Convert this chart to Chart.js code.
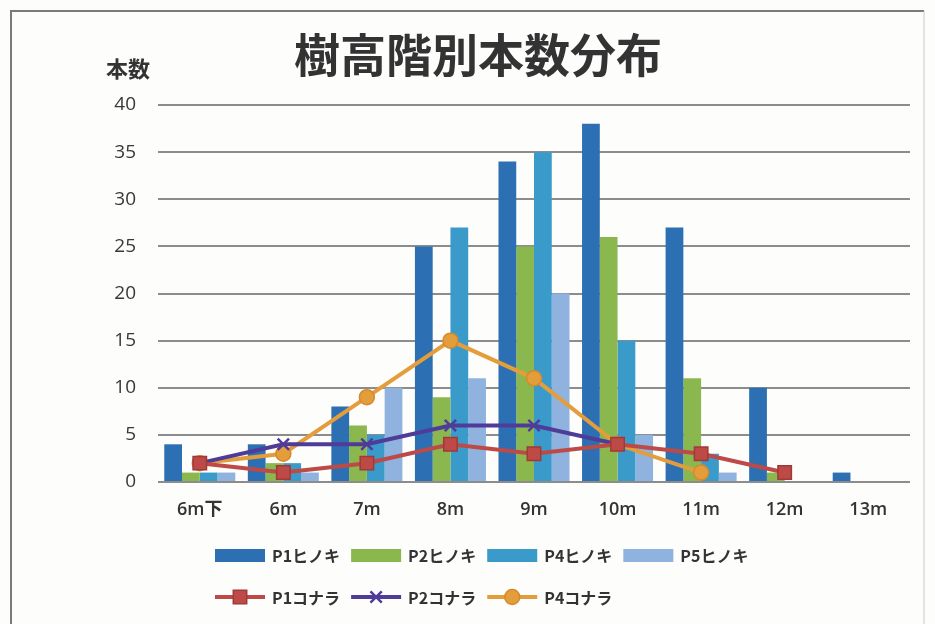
<!DOCTYPE html>
<html lang="ja">
<head>
<meta charset="utf-8">
<title>樹高階別本数分布</title>
<script src="https://cdn.jsdelivr.net/npm/chart.js@4.4.1/dist/chart.umd.min.js"></script>
<style>
    html, body { margin: 0; padding: 0; background: #fbfbf9; }
    #wrap { position: relative; width: 935px; height: 624px; }
</style>
</head>
<body>
<div id="wrap"><canvas id="heightChart" width="935" height="624"></canvas></div>
<script>

const categories = ['6m下', '6m', '7m', '8m', '9m', '10m', '11m', '12m', '13m'];

// ヒノキ (bars)
const p1Hinoki = [4, 4, 8, 25, 34, 38, 27, 10, 1];
const p2Hinoki = [1, 2, 6, 9, 25, 26, 11, 1, 0];
const p4Hinoki = [1, 2, 5, 27, 35, 15, 3, 0, 0];
const p5Hinoki = [1, 1, 10, 11, 20, 5, 1, 0, 0];

// コナラ (lines)
const p1Konara = [2, 1, 2, 4, 3, 4, 3, 1, null];
const p2Konara = [2, 4, 4, 6, 6, 4, null, null, null];
const p4Konara = [2, 3, 9, 15, 11, 4, 1, null, null];

const yMin = 0;
const yMax = 40;
const yStep = 5;

const fontFamily = '"Noto Sans CJK JP", "Noto Sans", sans-serif';
const tickFamily = '"Open Sans", "Noto Sans CJK JP", sans-serif';

const colors = {
    p1: '#2c6fb3',
    p2: '#8bb84e',
    p4: '#3a9bcb',
    p5: '#8fb2df',
    red: '#bd4a46',
    redEdge: '#9e3a37',
    purple: '#4f3c99',
    orange: '#e49d3b',
    grid: '#8c8c8c',
    text: '#333333'
};

const legendRows = [[0, 1, 2, 3], [4, 5, 6]];

function barSet(label, data, color) {
    return {
        type: 'bar',
        label: label,
        data: data,
        backgroundColor: color,
        borderWidth: 0,
        categoryPercentage: 0.85,
        barPercentage: 1.0,
        order: 2
    };
}

function lineSet(label, data, color, style, radius, fill, edge) {
    return {
        type: 'line',
        label: label,
        data: data,
        borderColor: color,
        borderWidth: 4,
        backgroundColor: fill,
        pointStyle: style,
        pointRadius: radius,
        pointHoverRadius: radius,
        pointBackgroundColor: fill,
        pointBorderColor: edge,
        pointBorderWidth: style === 'crossRot' ? 2.5 : 1.5,
        tension: 0,
        spanGaps: false,
        order: 1
    };
}

// frame, title, unit label and the two-row legend
const decorations = {
    id: 'decorations',
    beforeDraw(chart) {
        const ctx = chart.ctx;
        ctx.save();
        ctx.fillStyle = '#fdfdfc';
        ctx.fillRect(0, 0, chart.width, chart.height);
        ctx.strokeStyle = '#7a7a7a';
        ctx.lineWidth = 2;
        ctx.beginPath();
        ctx.moveTo(11, chart.height);
        ctx.lineTo(11, 11);
        ctx.lineTo(924, 11);
        ctx.stroke();
        ctx.strokeStyle = '#c8c8c8';
        ctx.lineWidth = 1;
        ctx.beginPath();
        ctx.moveTo(924, 11);
        ctx.lineTo(924, chart.height);
        ctx.stroke();
        ctx.restore();
    },
    afterDraw(chart) {
        const ctx = chart.ctx;
        const yScale = chart.scales.y;
        ctx.save();

        ctx.fillStyle = colors.text;
        ctx.textAlign = 'center';
        ctx.textBaseline = 'middle';
        ctx.font = 'bold 46px ' + fontFamily;
        ctx.fillText('樹高階別本数分布', 478, 55);

        ctx.font = 'bold 22px ' + fontFamily;
        ctx.textAlign = 'right';
        ctx.fillText('本数', yScale.right - 8, 69);

        const startX = 215;
        const rowY = [555, 597];
        const swatchW = 50;
        ctx.font = 'bold 16px ' + fontFamily;
        ctx.textAlign = 'left';

        legendRows.forEach((row, r) => {
            let x = startX;
            const y = rowY[r];
            row.forEach(i => {
                const ds = chart.data.datasets[i];
                if (ds.type === 'bar') {
                    ctx.fillStyle = ds.backgroundColor;
                    ctx.fillRect(x, y - 6, swatchW, 13);
                } else {
                    ctx.strokeStyle = ds.borderColor;
                    ctx.lineWidth = ds.borderWidth;
                    ctx.beginPath();
                    ctx.moveTo(x, y);
                    ctx.lineTo(x + swatchW, y);
                    ctx.stroke();
                    ctx.fillStyle = ds.pointBackgroundColor;
                    ctx.strokeStyle = ds.pointBorderColor;
                    ctx.lineWidth = ds.pointBorderWidth;
                    Chart.helpers.drawPoint(ctx, {
                        pointStyle: ds.pointStyle,
                        radius: ds.pointRadius,
                        borderWidth: ds.pointBorderWidth,
                        rotation: 0
                    }, x + swatchW / 2, y);
                }
                ctx.fillStyle = colors.text;
                ctx.fillText(ds.label, x + swatchW + 7, y + 1);
                x += swatchW + 7 + ctx.measureText(ds.label).width + 11;
            });
        });
        ctx.restore();
    }
};

function initHeightChart() {
    const ctx = document.getElementById('heightChart');
    if (!ctx) return;

    new Chart(ctx, {
        type: 'bar',
        data: {
            labels: categories,
            datasets: [
                barSet('P1ヒノキ', p1Hinoki, colors.p1),
                barSet('P2ヒノキ', p2Hinoki, colors.p2),
                barSet('P4ヒノキ', p4Hinoki, colors.p4),
                barSet('P5ヒノキ', p5Hinoki, colors.p5),
                lineSet('P1コナラ', p1Konara, colors.red, 'rect', 9.5, colors.red, colors.redEdge),
                lineSet('P2コナラ', p2Konara, colors.purple, 'crossRot', 8, colors.purple, colors.purple),
                lineSet('P4コナラ', p4Konara, colors.orange, 'circle', 7.5, colors.orange, '#d58a2c')
            ]
        },
        options: {
            responsive: false,
            animation: false,
            layout: {
                padding: { left: 98, right: 25, top: 105, bottom: 102 }
            },
            plugins: {
                legend: { display: false },
                title: { display: false },
                tooltip: { enabled: false }
            },
            scales: {
                x: {
                    grid: { display: false, drawTicks: false },
                    border: { display: false },
                    ticks: {
                        color: colors.text,
                        padding: 17,
                        font: { family: tickFamily, size: 18, weight: '600' }
                    },
                    afterFit(scale) { scale.height = 40; }
                },
                y: {
                    min: yMin,
                    max: yMax,
                    grid: { color: colors.grid, lineWidth: 2, drawTicks: false },
                    border: { display: false },
                    ticks: {
                        stepSize: yStep,
                        color: '#383838',
                        padding: 22,
                        font: { family: tickFamily, size: 19 }
                    },
                    afterFit(scale) { scale.width = 60; }
                }
            }
        },
        plugins: [decorations]
    });
}

initHeightChart();
</script>
</body>
</html>
